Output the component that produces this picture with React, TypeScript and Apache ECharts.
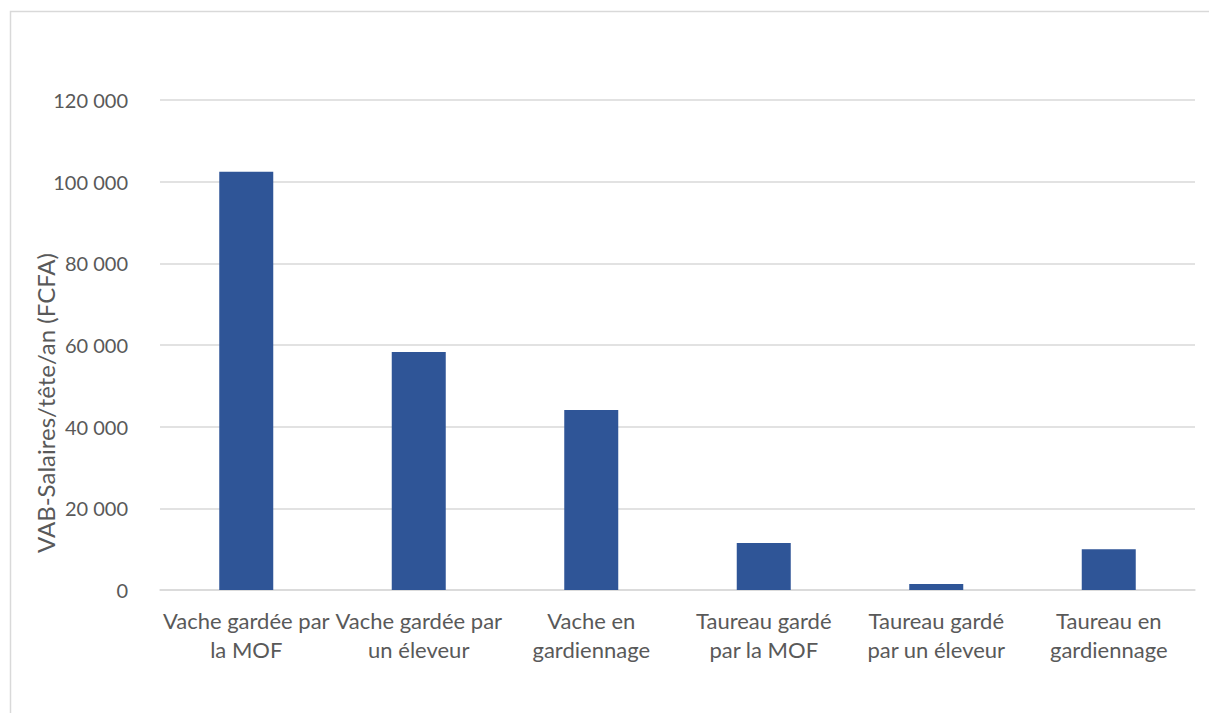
import React, { useEffect, useRef } from "react";
import * as echarts from "echarts";

const categories = [
  "Vache gardée par\nla MOF",
  "Vache gardée par\nun éleveur",
  "Vache en\ngardiennage",
  "Taureau gardé\npar la MOF",
  "Taureau gardé\npar un éleveur",
  "Taureau en\ngardiennage",
];
const values = [102400, 58300, 44100, 11500, 1450, 10000];
const yTicks = { min: 0, max: 120000, interval: 20000 };
const yAxisName = "VAB-Salaires/tête/an (FCFA)";

const fmt = (v: number) =>
  String(Math.round(v)).replace(/\B(?=(\d{3})+(?!\d))/g, " ");

export default function App() {
  const ref = useRef<HTMLDivElement>(null);
  useEffect(() => {
    document.body.style.margin = "0";
    const chart = echarts.init(ref.current!, undefined, { renderer: "svg" });
    const font = "Lato, 'Open Sans', sans-serif";
    chart.setOption({
      animation: false,
      textStyle: { fontFamily: font },
      graphic: [
        {
          type: "rect",
          shape: { x: 10.5, y: 11.5, width: 1400, height: 900 },
          style: { fill: "none", stroke: "#d9d9d9", lineWidth: 1.5 },
          silent: true,
        },
        {
          type: "text",
          x: 45,
          y: 403,
          rotation: Math.PI / 2,
          style: {
            text: yAxisName,
            fill: "#595959",
            fontSize: 24,
            fontFamily: font,
            align: "center",
            verticalAlign: "middle",
          },
          silent: true,
        },
      ],
      grid: { left: 160, right: 14, top: 100, bottom: 123, containLabel: false },
      xAxis: {
        type: "category",
        data: categories,
        axisLine: { lineStyle: { color: "#d9d9d9", width: 1.5 } },
        axisTick: { show: false },
        axisLabel: {
          color: "#595959",
          fontSize: 22,
          lineHeight: 29,
          margin: 16,
          interval: 0,
          fontFamily: font,
        },
      },
      yAxis: {
        type: "value",
        min: yTicks.min,
        max: yTicks.max,
        interval: yTicks.interval,
        axisLine: { show: false },
        axisTick: { show: false },
        splitLine: { lineStyle: { color: "#d9d9d9", width: 1.5 } },
        axisLabel: {
          color: "#595959",
          fontSize: 20,
          margin: 32,
          formatter: (v: number) => fmt(v),
          fontFamily: font,
        },
      },
      series: [
        {
          type: "bar",
          data: values,
          barWidth: 54,
          itemStyle: { color: "#2F5597" },
        },
      ],
    });
    return () => chart.dispose();
  }, []);
  return <div ref={ref} style={{ width: 1209, height: 713 }} />;
}
